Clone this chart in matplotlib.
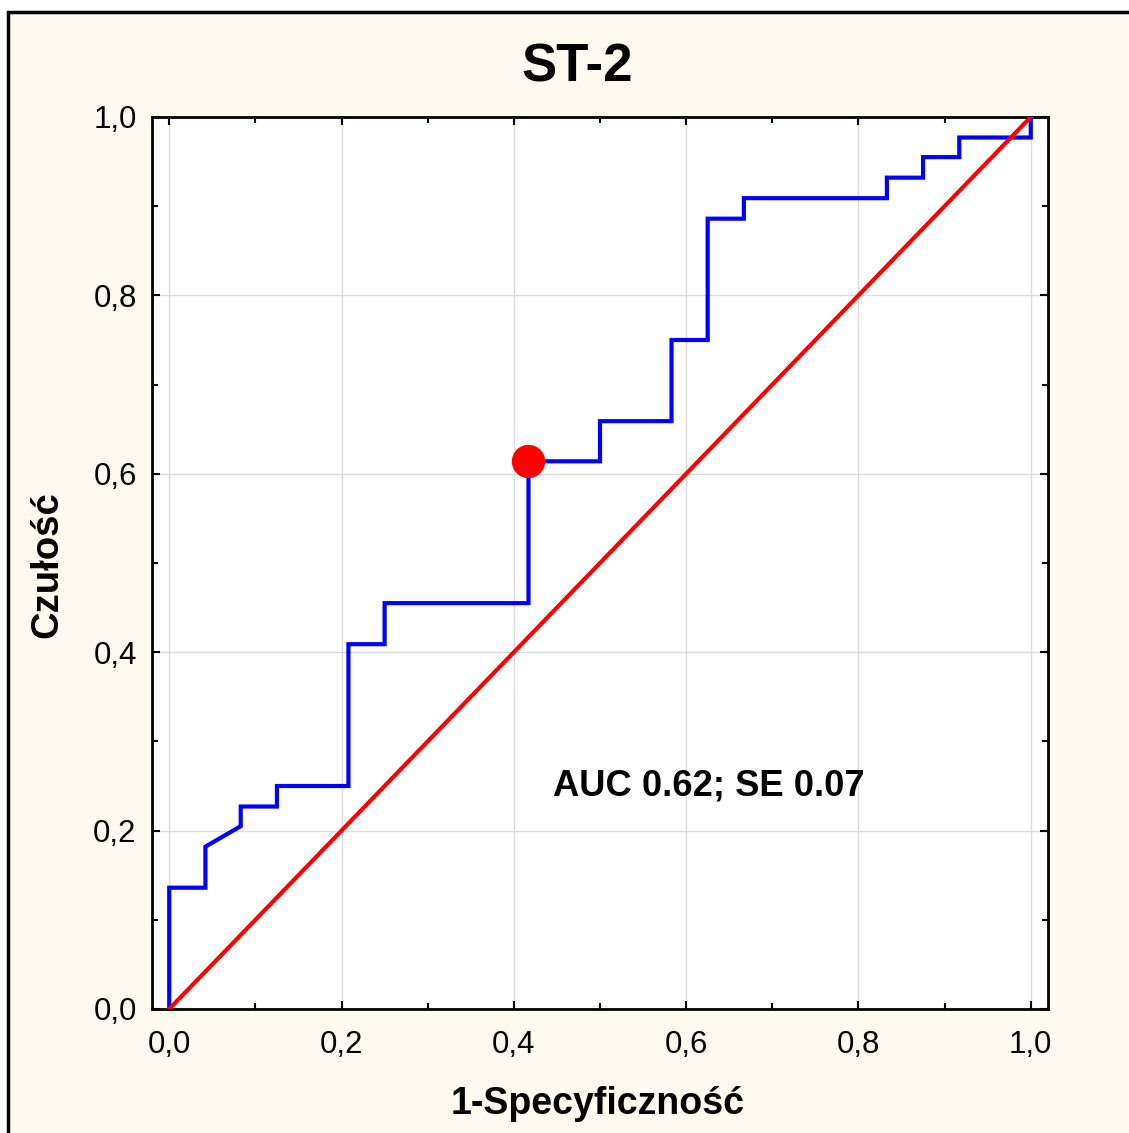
import matplotlib

matplotlib.use("Agg")
import matplotlib.pyplot as plt
from matplotlib.patches import Rectangle
from matplotlib.ticker import MultipleLocator, FuncFormatter

plt.rcParams["font.family"] = ["Liberation Sans", "DejaVu Sans"]

# ROC curve for ST-2 (step path: 1-specificity vs sensitivity)
fpr = [0.0, 0.0, 0.042, 0.042, 0.083, 0.083, 0.125, 0.125, 0.208, 0.208,
       0.25, 0.25, 0.417, 0.417, 0.5, 0.5, 0.583, 0.583, 0.625, 0.625,
       0.667, 0.667, 0.833, 0.833, 0.875, 0.875, 0.917, 0.917, 1.0, 1.0]
tpr = [0.0, 0.136, 0.136, 0.182, 0.205, 0.227, 0.227, 0.25, 0.25, 0.409,
       0.409, 0.455, 0.455, 0.614, 0.614, 0.659, 0.659, 0.75, 0.75, 0.886,
       0.886, 0.909, 0.909, 0.932, 0.932, 0.955, 0.955, 0.977, 0.977, 1.0]

# optimal cut-off point
cut_fpr = 0.417
cut_tpr = 0.614

auc = 0.62
se = 0.07

title = "ST-2"
xlabel = "1-Specyficzność"
ylabel = "Czułość"

BG = "#fffaf0"

fig = plt.figure(figsize=(11.29, 11.33), dpi=100, facecolor="white")
W, H = 1129, 1133

# cream panel with a black frame, running off the right/bottom edges
panel = Rectangle((8 / W, -0.05), 1.1, 1 - 12 / H + 0.05,
                  transform=fig.transFigure, facecolor=BG,
                  edgecolor="black", linewidth=2.5, zorder=-10)
fig.add_artist(panel)

ax = fig.add_axes([152 / W, 1 - 1009 / H, 896 / W, 892 / H])
ax.set_facecolor("white")

ax.plot(fpr, tpr, color="#0000ff", lw=3.0, solid_joinstyle="miter", zorder=3)
ax.plot([0, 1], [0, 1], color="#ff0000", lw=3.0, zorder=4)
ax.plot([cut_fpr], [cut_tpr], "o", color="#ff0000", markersize=23, zorder=5)

ax.text(0.445, 0.25, f"AUC {auc:.2f}; SE {se:.2f}", fontsize=26.2,
        fontweight="bold", ha="left", va="center", zorder=6)

ax.set_xlim(-0.02, 1.02)
ax.set_ylim(0, 1)
ax.xaxis.set_major_locator(MultipleLocator(0.2))
ax.yaxis.set_major_locator(MultipleLocator(0.2))
ax.xaxis.set_minor_locator(MultipleLocator(0.1))
ax.yaxis.set_minor_locator(MultipleLocator(0.1))
comma = FuncFormatter(lambda v, _: f"{v:.1f}".replace(".", ","))
ax.xaxis.set_major_formatter(comma)
ax.yaxis.set_major_formatter(comma)

ax.tick_params(which="both", direction="in", top=True, right=True,
               width=1.5, labelsize=22.5, colors="black")
ax.tick_params(which="major", length=6)
ax.tick_params(which="minor", length=4)
ax.tick_params(axis="x", pad=15)
ax.tick_params(axis="y", pad=11)

ax.grid(True, which="major", color="#dcdcdc", lw=1.0, zorder=0)
for s in ax.spines.values():
    s.set_linewidth(2.0)
    s.set_color("black")

fig.text(577 / W, 1 - 68 / H, title, fontsize=38, fontweight="bold",
         ha="center", va="center")
fig.text(598 / W, 1 - 1104 / H, xlabel, fontsize=27, fontweight="bold",
         ha="center", va="center")
fig.text(47 / W, 1 - 565 / H, ylabel, fontsize=27.5, fontweight="bold",
         ha="center", va="center", rotation=90)

fig.savefig("out.png", dpi=100, facecolor=fig.get_facecolor())
